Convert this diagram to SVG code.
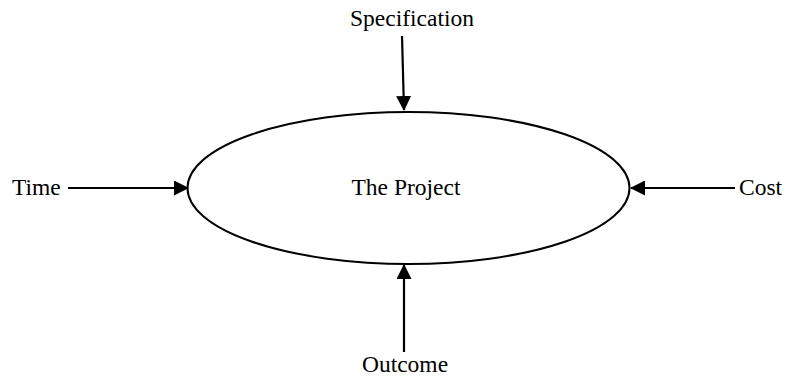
<svg xmlns="http://www.w3.org/2000/svg" width="785" height="378" viewBox="0 0 785 378">
  <style>
    .label { font-family: "Liberation Serif", "Times New Roman", serif; font-size: 23.5px; fill: #000; }
    .edge { stroke: #000; stroke-width: 2.2; fill: none; }
    .node { fill: #fff; stroke: #000; stroke-width: 2; }
  </style>
  <defs>
    <marker id="arrow" viewBox="0 0 15 15" refX="14" refY="7.5" markerWidth="15" markerHeight="15" markerUnits="userSpaceOnUse" orient="auto">
      <path d="M0,0 L15,7.5 L0,15 Z" fill="#000"/>
    </marker>
  </defs>
  <rect width="785" height="378" fill="#fff"/>

  <g id="project">
    <ellipse class="node" cx="408.5" cy="188" rx="221" ry="76"/>
    <text class="label" x="406" y="195" text-anchor="middle">The Project</text>
  </g>

  <g id="specification">
    <text class="label" x="412" y="26" text-anchor="middle">Specification</text>
  </g>
  <g id="time">
    <text class="label" x="12" y="195">Time</text>
  </g>
  <g id="cost">
    <text class="label" x="739" y="195">Cost</text>
  </g>
  <g id="outcome">
    <text class="label" x="405" y="372" text-anchor="middle">Outcome</text>
  </g>

  <g id="connectors">
    <line class="edge" x1="402" y1="36" x2="404" y2="110" marker-end="url(#arrow)"/>
    <line class="edge" x1="68" y1="188" x2="188" y2="188" marker-end="url(#arrow)"/>
    <line class="edge" x1="735" y1="188" x2="631" y2="188" marker-end="url(#arrow)"/>
    <line class="edge" x1="404" y1="352" x2="404" y2="265" marker-end="url(#arrow)"/>
  </g>
</svg>
